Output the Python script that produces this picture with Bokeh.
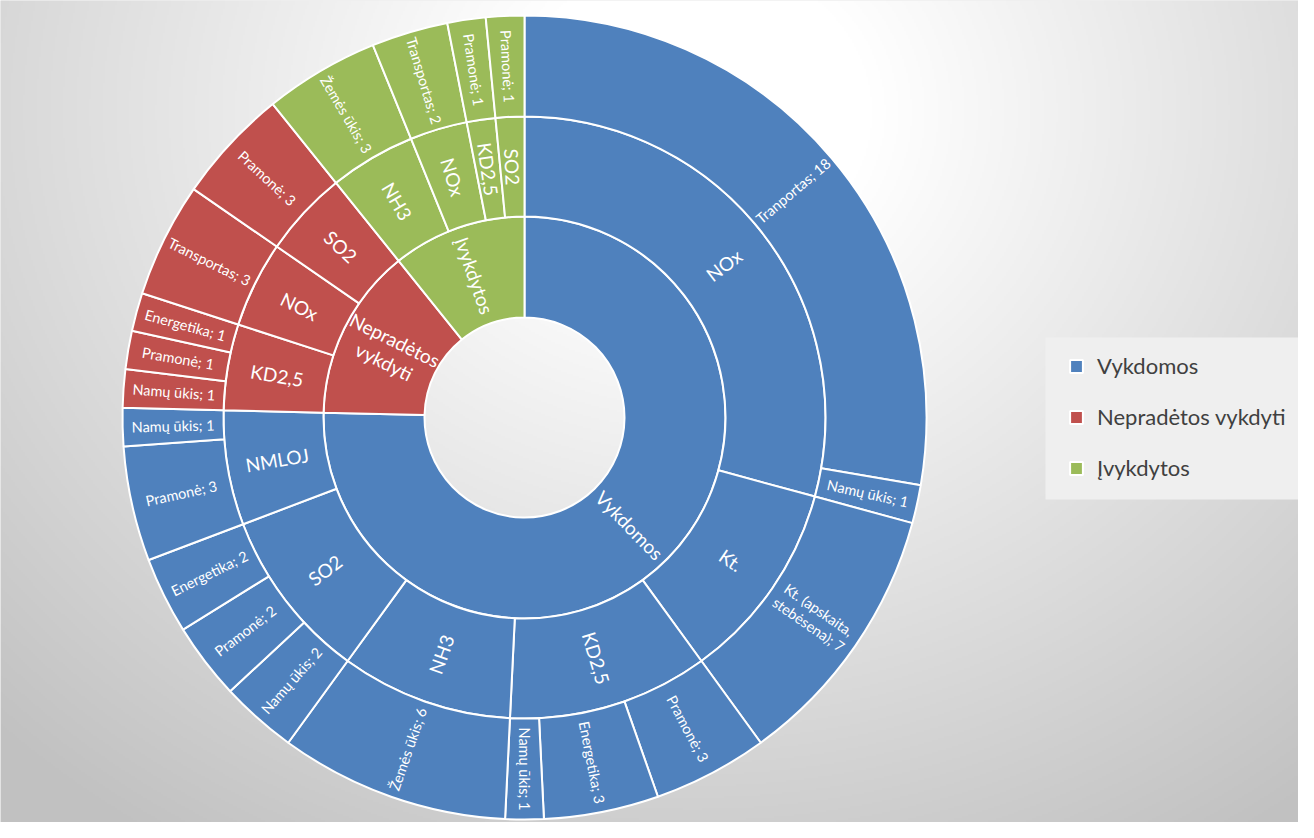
import numpy as np
import pandas as pd
from bokeh.plotting import figure
from bokeh.models import ColumnDataSource, Legend, LegendItem, Range1d, BoxAnnotation
from bokeh.core.properties import value
from bokeh.embed import file_html
from bokeh.resources import INLINE

# ---------------- data ----------------
statuses = ["Vykdomos", "Nepradėtos vykdyti", "Įvykdytos"]
status_colors = ["#4F81BD", "#C0504D", "#9BBB59"]

leaf_status = [
    "Vykdomos", "Vykdomos", "Vykdomos", "Vykdomos", "Vykdomos", "Vykdomos",
    "Vykdomos", "Vykdomos", "Vykdomos", "Vykdomos", "Vykdomos", "Vykdomos",
    "Nepradėtos vykdyti", "Nepradėtos vykdyti", "Nepradėtos vykdyti",
    "Nepradėtos vykdyti", "Nepradėtos vykdyti",
    "Įvykdytos", "Įvykdytos", "Įvykdytos", "Įvykdytos",
]
leaf_pollutant = [
    "NOx", "NOx", "Kt.", "KD2,5", "KD2,5", "KD2,5", "NH3", "SO2", "SO2", "SO2", "NMLOJ", "NMLOJ",
    "KD2,5", "KD2,5", "KD2,5", "NOx", "SO2",
    "NH3", "NOx", "KD2,5", "SO2",
]
leaf_sector = [
    "Tranportas", "Namų ūkis", "Kt. (apskaita, stebėsena)", "Pramonė", "Energetika", "Namų ūkis",
    "Žemės ūkis", "Namų ūkis", "Pramonė", "Energetika", "Pramonė", "Namų ūkis",
    "Namų ūkis", "Pramonė", "Energetika", "Transportas", "Pramonė",
    "Žemės ūkis", "Transportas", "Pramonė", "Pramonė",
]
leaf_value = [18, 1, 7, 3, 3, 1, 6, 2, 2, 2, 3, 1,
              1, 1, 1, 3, 3,
              3, 2, 1, 1]

# ---------------- layout ----------------
W, H = 1298, 822
CX, CY = 532 - 8, H + 8 - 425
R0, R1, R2, R3 = 100, 201, 301, 402
FONT = "Lato"

df = pd.DataFrame({"status": leaf_status, "pollutant": leaf_pollutant,
                   "sector": leaf_sector, "value": leaf_value})
total = df["value"].sum()
color_of = dict(zip(statuses, status_colors))


def runs(keys):
    out = []
    cum = 0
    for k, v in zip(keys, df["value"]):
        if out and out[-1][0] == k:
            out[-1][2] += v
        else:
            out.append([k, cum, v])
        cum += v
    return out


def wrap(s, maxlen):
    if len(s) <= maxlen or " " not in s:
        return s
    spaces = [i for i, c in enumerate(s) if c == " "]
    i = min(spaces, key=lambda j: abs(j - len(s) / 2))
    return s[:i] + "\n" + s[i + 1:]


def ring_source(items, r_in, r_out, maxlen):
    starts, ends, colors, xs, ys, angs, labels = [], [], [], [], [], [], []
    for key, c0, v, label, status in items:
        a0 = c0 / total * 2 * np.pi
        a1 = (c0 + v) / total * 2 * np.pi
        starts.append(np.pi / 2 - a0)
        ends.append(np.pi / 2 - a1)
        colors.append(color_of[status])
        th = (a0 + a1) / 2
        rm = (r_in + r_out) / 2
        xs.append(CX + rm * np.sin(th))
        ys.append(CY + rm * np.cos(th))
        deg = np.degrees(th)
        if deg <= 180 + 1e-6:
            angs.append(np.pi / 2 - th)
        else:
            angs.append(3 * np.pi / 2 - th)
        labels.append(wrap(label, maxlen))
    return ColumnDataSource(dict(start=starts, end=ends, color=colors, x=xs, y=ys,
                                 angle=angs, label=labels))


lvl1 = [(k, c0, v, k, k) for k, c0, v in runs(df["status"])]
lvl2 = [(k, c0, v, k[1], k[0]) for k, c0, v in runs(list(zip(df["status"], df["pollutant"])))]
cum = np.concatenate([[0], np.cumsum(df["value"])[:-1]])
lvl3 = [(i, c0, v, f"{s}; {v}", st) for i, (c0, v, s, st) in
        enumerate(zip(cum, df["value"], df["sector"], df["status"]))]

src1 = ring_source(lvl1, R0, R1, 12)
src2 = ring_source(lvl2, R1, R2, 12)
src3 = ring_source(lvl3, R2, R3, 20)

p = figure(width=W, height=H, output_backend="svg", toolbar_location=None,
           x_range=Range1d(0, W), y_range=Range1d(0, H), min_border=0,
           background_fill_color="#e0e0e0", border_fill_color="#e0e0e0")
p.axis.visible = False
p.grid.visible = False
p.outline_line_color = None

# background gradient (style only)
sc = 2
hh, ww = H // sc, W // sc
gx = (np.arange(ww) + 0.5) * sc
gy = (np.arange(hh) + 0.5) * sc
GX, GY = np.meshgrid(gx, gy)
PX, PY = GX + 8, H + 8 - GY
d = np.hypot((PX - 700) * 1.0, (PY - 120) * 1.15)
v = (255 - 62 * np.clip((d - 180) / 820, 0, 1)).astype(np.uint8)
img = np.empty((hh, ww, 4), dtype=np.uint8)
img[..., 0] = v
img[..., 1] = v
img[..., 2] = v
img[..., 3] = 255
p.image_rgba(image=[img.view(np.uint32).reshape(hh, ww)], x=0, y=0, dw=W, dh=H)

renderers = []
for src, ri, ro, fs in [(src1, R0, R1, "19px"), (src2, R1, R2, "19px"), (src3, R2, R3, "14.5px")]:
    r = p.annular_wedge(x=CX, y=CY, inner_radius=ri, outer_radius=ro,
                        start_angle="start", end_angle="end", direction="clock",
                        fill_color="color", line_color="white", line_width=2, source=src)
    renderers.append(r)
    p.text(x="x", y="y", text="label", angle="angle", source=src,
           text_align="center", text_baseline="middle", text_color="white",
           text_font=value(FONT), text_font_size=fs, text_line_height=1.05)

# legend background panel
p.add_layout(BoxAnnotation(left=1045, right=1302, bottom=H - 499, top=H - 337,
                           fill_color="#efefef", fill_alpha=1, line_color=None))

legend = Legend(items=[LegendItem(label=s, renderers=[renderers[0]], index=i)
                       for i, s in enumerate(statuses)],
                location=(1068, 341))
legend.background_fill_alpha = 0
legend.border_line_color = None
legend.label_text_font = FONT
legend.label_text_font_size = "22px"
legend.label_text_color = "#404040"
legend.glyph_width = 16
legend.glyph_height = 16
legend.label_standoff = 13
legend.label_height = 22
legend.spacing = 24
legend.padding = 0
legend.margin = 0
p.add_layout(legend)

open("out.html", "w").write(file_html(p, INLINE))
